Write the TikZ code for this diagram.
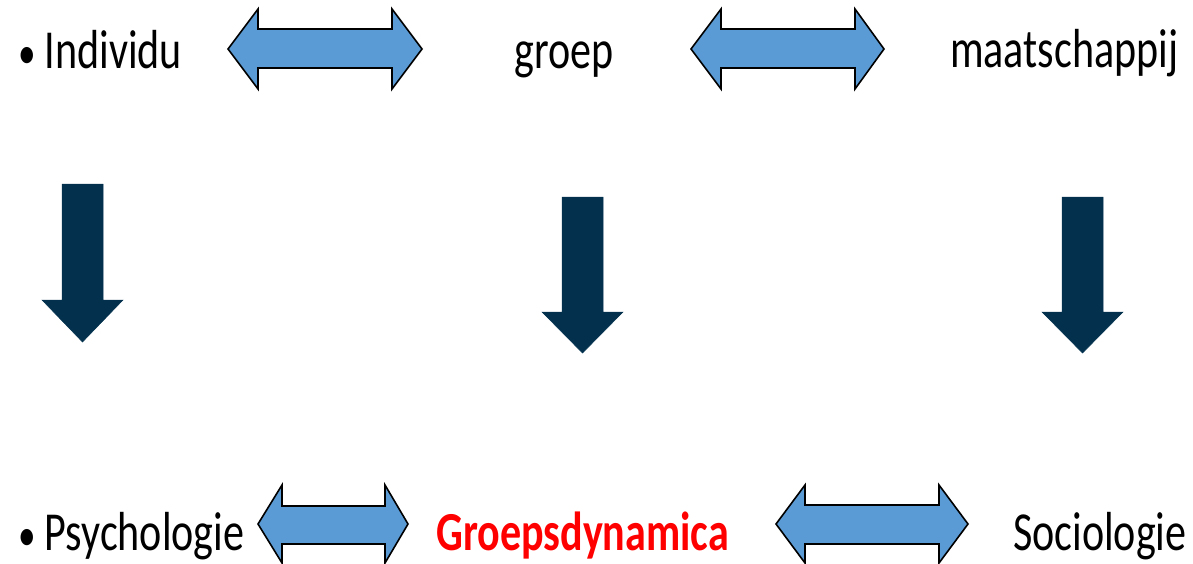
\documentclass[tikz,border=0pt]{standalone}
\usepackage{fontspec}
\setmainfont{Carlito}[FakeStretch=0.765]
\definecolor{dblblue}{RGB}{91,155,213}
\definecolor{navy}{RGB}{2,48,77}
\definecolor{hired}{RGB}{255,0,0}
\tikzset{
  lbl/.style={anchor=base west, inner sep=0pt, font=\fontsize{55}{60}\selectfont},
  dblarrow/.style={fill=dblblue, draw=black, line width=1.6pt, line join=miter},
  downarrow/.style={fill=navy, draw=navy, line width=0.5pt}
}
\begin{document}
\begin{tikzpicture}[x=1pt,y=-1pt]
\useasboundingbox (0,0) rectangle (1193,563);
% texts
\node[lbl] (individu) at (18,68) {{\fontsize{46}{50}\selectfont•}\hspace{9pt}Individu};
\node[lbl] (groep) at (514,68) {groep};
\node[lbl] (maat) at (950,67) {maatschappij};
\node[lbl] (psych) at (18,550) {{\fontsize{46}{50}\selectfont•}\hspace{9pt}Psychologie};
\node[lbl, font=\fontsize{55}{60}\selectfont\bfseries, text=hired] (gd) at (436,550) {Groepsdynamica};
\node[lbl] (socio) at (1013,550) {Sociologie};
% top double arrows
\draw[dblarrow] (228,49) -- (258,9) -- (258,29) -- (392,29) -- (392,9) -- (422,49)
  -- (392,89) -- (392,68) -- (258,68) -- (258,89) -- cycle;
\draw[dblarrow] (691,49) -- (721,9) -- (721,29) -- (855,29) -- (855,9) -- (884,49)
  -- (855,89) -- (855,68) -- (721,68) -- (721,89) -- cycle;
% bottom double arrows
\draw[dblarrow] (258,524) -- (282,485) -- (282,506) -- (385,506) -- (385,485) -- (408,524)
  -- (385,563) -- (385,544) -- (282,544) -- (282,563) -- cycle;
\draw[dblarrow] (776,524) -- (805,485) -- (805,505) -- (939,505) -- (939,485) -- (968,524)
  -- (939,563) -- (939,544) -- (805,544) -- (805,563) -- cycle;
% down arrows
\draw[downarrow] (62,184) -- (103,184) -- (103,300) -- (123,300) -- (82.5,342)
  -- (42,300) -- (62,300) -- cycle;
\draw[downarrow] (562,197) -- (603,197) -- (603,312) -- (623,312) -- (582.5,353)
  -- (542,312) -- (562,312) -- cycle;
\draw[downarrow] (1062,197) -- (1103,197) -- (1103,312) -- (1123,312) -- (1082.5,353)
  -- (1042,312) -- (1062,312) -- cycle;
\end{tikzpicture}
\end{document}
